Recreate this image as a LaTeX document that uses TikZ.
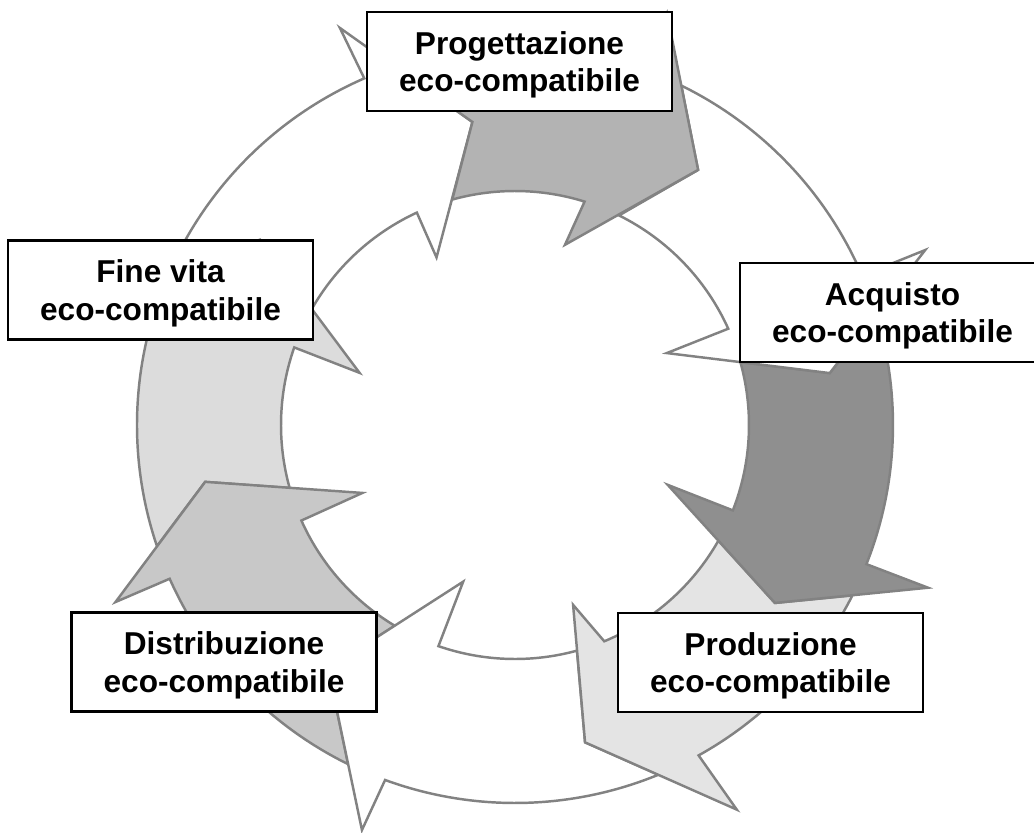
\documentclass[tikz,border=0pt]{standalone}
\usepackage{fontspec}
\setmainfont{Liberation Sans}
\definecolor{segline}{RGB}{130,130,130}
\definecolor{progfill}{RGB}{179,179,179}
\definecolor{acqfill}{RGB}{143,143,143}
\definecolor{prodfill}{RGB}{228,228,228}
\definecolor{distrfill}{RGB}{200,200,200}
\definecolor{finefill}{RGB}{220,220,220}

\begin{document}
\begin{tikzpicture}[x=0.02cm,y=0.02cm,
    cyclearrow/.style={draw=segline,line width=1.4pt,line join=miter},
    phasebox/.style={draw=black,fill=white,line width=1.2pt,inner sep=0pt,
      minimum width=6.1cm,minimum height=1.98cm,align=center,text depth=0pt,
      font=\fontsize{18}{21.3}\selectfont\bfseries}]
        \useasboundingbox (-515,-407) rectangle (519,425); % page, centre of the ring at (0,0)

        % White arrow before Progettazione (drawn first, lies under the rest)
        \filldraw[cyclearrow,fill=white] (154.4:378) arc[start angle=154.4,end angle=113.5,radius=378]
            -- (113.8:434) -- (98:306) -- (115.1:185) -- (114.8:234)
            arc[start angle=114.8,end angle=150.25,radius=234] -- (144:315) -- cycle;

        % Fine vita arrow
        \filldraw[cyclearrow,fill=finefill] (198.7:378) arc[start angle=198.7,end angle=161,radius=378]
            -- (161:440) -- (144:315) -- (161.45:164) -- (160.64:234)
            arc[start angle=160.64,end angle=195.6,radius=234] -- (190.4:315) -- cycle;

        % Distribuzione arrow
        \filldraw[cyclearrow,fill=distrfill] (-116.2:378) arc[start angle=-116.2,end angle=-156,radius=378]
            -- (-156.1:437) -- (-169.6:315) -- (-156:167) -- (-155.9:234)
            arc[start angle=-155.9,end angle=-120.9,radius=234] -- (-127.5:307) -- cycle;

        % White arrow at the bottom
        \filldraw[cyclearrow,fill=white] (-67.7:378) arc[start angle=-67.7,end angle=-110.1,radius=378]
            -- (-110.7:433) -- (-127.5:307) -- (-108.3:165) -- (-109.1:234)
            arc[start angle=-109.1,end angle=-74.65,radius=234] -- (-77.55:325) -- cycle;

        % Produzione arrow
        \filldraw[cyclearrow,fill=prodfill] (-26.8:378) arc[start angle=-26.8,end angle=-60.94,radius=378]
            -- (-60.03:444) -- (-77.55:325) -- (-72.1:189) -- (-67.57:234)
            arc[start angle=-67.57,end angle=-29.6,radius=234] -- (-34.4:315) -- cycle;

        % Acquisto arrow
        \filldraw[cyclearrow,fill=acqfill] (17.19:378) arc[start angle=17.19,end angle=-21.6,radius=378]
            -- (-21.5:444) -- (-34.4:315) -- (-21.4:164) -- (-21.4:234)
            arc[start angle=-21.4,end angle=15.6,radius=234] -- (9.37:319) -- cycle;

        % White arrow on the upper right
        \filldraw[cyclearrow,fill=white] (63.9:378) arc[start angle=63.9,end angle=23.3,radius=378]
            -- (23.1:446) -- (9.37:319) -- (25.35:168) -- (24.3:234)
            arc[start angle=24.3,end angle=63.6,radius=234] -- (54.33:314) -- cycle;

        % Progettazione arrow
        \filldraw[cyclearrow,fill=progfill] (108.6:378) arc[start angle=108.6,end angle=70.5,radius=378]
            -- (69.75:439) -- (54.33:314) -- (74.5:187) -- (72.7:234)
            arc[start angle=72.7,end angle=105.55,radius=234] -- (98:306) -- cycle;

        % Labels
        \node[phasebox] (prog) at (4.5,363.5) {Progettazione\\eco-compatibile};
        \node[phasebox] (acq) at (377.5,112.5) {Acquisto\\eco-compatibile};
        \node[phasebox] (prod) at (255.5,-237.5) {Produzione\\eco-compatibile};
        \node[phasebox] (distr) at (-291,-237) {Distribuzione\\eco-compatibile};
        \node[phasebox] (fine) at (-354.5,135) {Fine vita\\eco-compatibile};
    \end{tikzpicture}
\end{document}
